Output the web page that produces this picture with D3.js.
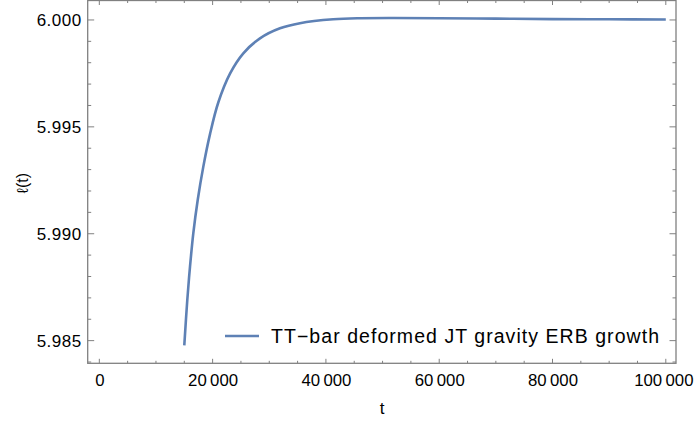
<!DOCTYPE html>
<html><head><meta charset="utf-8">
<script src="https://cdn.jsdelivr.net/npm/d3@7"></script>
<style>body{margin:0;background:#fff}svg{display:block}text{font-family:"Liberation Sans",Arial,sans-serif}</style>
</head><body><svg id="c" width="696" height="423"></svg>
<script>
const tValues = [15000, 15530, 16010, 16590, 17370, 18360, 19540, 21000, 23070, 25420, 28360, 31890, 35420, 41300, 46000, 52000, 60000, 70000, 80000, 90000, 100000];
const lValues = [5.98478, 5.98690, 5.98846, 5.99002, 5.99158, 5.99314, 5.99466, 5.99614, 5.99749, 5.99844, 5.99914, 5.99961, 5.99985, 6.00003, 6.00008, 6.00009, 6.00008, 6.00006, 6.00004, 6.00003, 6.00002];
const xTicks = [0, 20000, 40000, 60000, 80000, 100000];
const yTicks = [5.985, 5.990, 5.995, 6.000];
const seriesName = "TT\u2212bar deformed JT gravity ERB growth";
const xLabel = "t", yLabel = "\u2113(t)";

const svg = d3.select("#c");
const L = 87.7, R = 676, T = 0.5, B = 363.3;
const x = d3.scaleLinear().domain([-2050, 101800]).range([L, R]);
const y = d3.scaleLinear().domain([5.98394, 6.00091]).range([B, T]);
const frame = "#808080";

const xMinor = d3.range(0, 100001, 5000).filter(v => !xTicks.includes(v));
const yMinor = d3.range(5.984, 6.0005, 0.001).map(v => +v.toFixed(3)).filter(v => !yTicks.some(t => Math.abs(t - v) < 1e-9));

const fmt = v => d3.format(",")(v).replace(/,/g, "\u2009");

// bottom axis
const bAx = svg.append("g").attr("transform", `translate(0,${B})`)
  .call(d3.axisBottom(x).tickValues(xTicks).tickSize(0).tickPadding(11).tickFormat(fmt));
bAx.select(".domain").remove();
bAx.selectAll("text").attr("font-size", 16.8).attr("fill", "#000").attr("font-family", "Liberation Sans, Arial, sans-serif");
bAx.selectAll(".tick").filter(d => d === 100000).select("text").attr("dx", -2.5);

// left axis
const lAx = svg.append("g").attr("transform", `translate(${L},0)`)
  .call(d3.axisLeft(y).tickValues(yTicks).tickSize(0).tickPadding(6).tickFormat(d3.format(".3f")));
lAx.select(".domain").remove();
lAx.selectAll("text").attr("font-size", 17).attr("letter-spacing", 0.5).attr("fill", "#000").attr("font-family", "Liberation Sans, Arial, sans-serif");

// ticks
const tk = svg.append("g").attr("stroke", frame).attr("stroke-width", 1);
xTicks.forEach(v => {
  tk.append("line").attr("x1", x(v)).attr("x2", x(v)).attr("y1", B).attr("y2", B - 4.5);
  tk.append("line").attr("x1", x(v)).attr("x2", x(v)).attr("y1", T).attr("y2", T + 4.5);
});
xMinor.forEach(v => {
  tk.append("line").attr("x1", x(v)).attr("x2", x(v)).attr("y1", B).attr("y2", B - 2.5);
  tk.append("line").attr("x1", x(v)).attr("x2", x(v)).attr("y1", T).attr("y2", T + 2.5);
});
yTicks.forEach(v => {
  tk.append("line").attr("y1", y(v)).attr("y2", y(v)).attr("x1", L).attr("x2", L + 6.5);
  tk.append("line").attr("y1", y(v)).attr("y2", y(v)).attr("x1", R).attr("x2", R - 6.5);
});
yMinor.forEach(v => {
  tk.append("line").attr("y1", y(v)).attr("y2", y(v)).attr("x1", L).attr("x2", L + 3.5);
  tk.append("line").attr("y1", y(v)).attr("y2", y(v)).attr("x1", R).attr("x2", R - 3.5);
});

// frame
svg.append("rect").attr("x", L).attr("y", T).attr("width", R - L).attr("height", B - T)
  .attr("fill", "none").attr("stroke", frame).attr("stroke-width", 1.3);

// curve
const data = tValues.map((t, i) => [t, lValues[i]]);
svg.append("path").datum(data)
  .attr("fill", "none").attr("stroke", "#5E81B5").attr("stroke-width", 2.6)
  .attr("d", d3.line().x(d => x(d[0])).y(d => y(d[1])).curve(d3.curveCatmullRom.alpha(0.5)));

// legend
svg.append("line").attr("x1", 225).attr("x2", 259).attr("y1", 336).attr("y2", 336)
  .attr("stroke", "#5E81B5").attr("stroke-width", 2.6);
svg.append("text").attr("x", 271).attr("y", 343).attr("font-size", 19.5)
  .attr("textLength", 388).attr("lengthAdjust", "spacing").attr("fill", "#000").text(seriesName);

// axis labels
svg.append("text").attr("x", 382).attr("y", 414).attr("text-anchor", "middle").attr("font-size", 17).text(xLabel);
svg.append("text").attr("transform", "translate(28,183) rotate(-90)").attr("text-anchor", "middle").attr("font-size", 16).text(yLabel);
</script></body></html>
